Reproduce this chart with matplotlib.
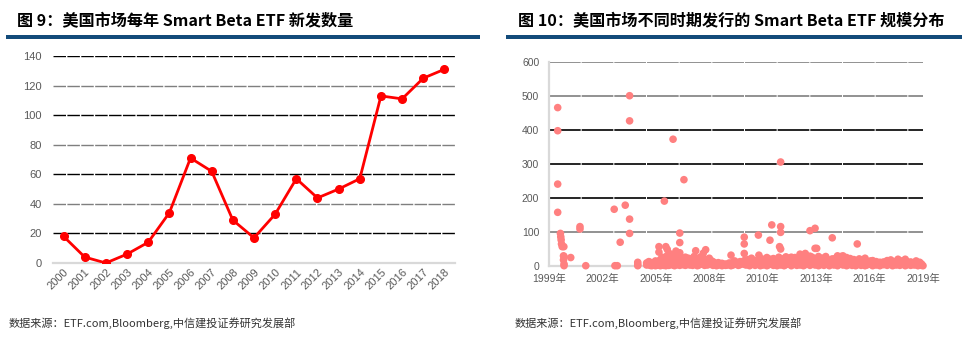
import numpy as np
import matplotlib.pyplot as plt
from matplotlib.patches import Rectangle

plt.rcParams['font.family'] = ['Liberation Sans', 'Noto Sans CJK SC', 'DejaVu Sans']

# fig 9: new Smart Beta ETFs per year
years = ['2000', '2001', '2002', '2003', '2004', '2005', '2006', '2007', '2008', '2009',
         '2010', '2011', '2012', '2013', '2014', '2015', '2016', '2017', '2018']
new_etfs = [18, 4, 0, 6, 14, 34, 71, 62, 29, 17, 33, 57, 44, 50, 57, 113, 111, 125, 131]

# fig 10: launch time (decimal year) vs size
pts_1999_2004 = [(1999.65, 465), (1999.65, 397), (1999.65, 240), (1999.65, 157),
                 (1999.8, 95), (1999.82, 85), (1999.84, 76), (1999.86, 64), (1999.9, 56),
                 (1999.99, 56), (1999.97, 29), (1999.97, 17), (2000.0, 27), (2000.0, 5),
                 (2000.0, 0), (2000.37, 24), (2000.88, 115), (2000.88, 108), (2001.2, 0),
                 (2002.77, 166), (2002.81, 0), (2002.94, 0), (2003.1, 69), (2003.38, 178),
                 (2003.62, 500), (2003.62, 426), (2003.62, 137), (2003.62, 95),
                 (2004.07, 10), (2004.07, 4), (2004.07, 0)]

pts_2004_2009 = [(2004.56, 8), (2004.56, 2), (2004.68, 12), (2004.68, 4), (2004.75, 10),
                 (2004.75, 1), (2004.84, 0), (2004.84, 6), (2004.95, 3), (2004.95, 9),
                 (2005.05, 14), (2005.05, 5), (2005.05, 0), (2005.15, 8), (2005.15, 2),
                 (2005.24, 56), (2005.24, 40), (2005.24, 11), (2005.24, 3),
                 (2005.32, 18), (2005.32, 6), (2005.32, 0), (2005.42, 25), (2005.42, 12),
                 (2005.42, 4), (2005.5, 16), (2005.5, 1), (2005.54, 190), (2005.54, 8),
                 (2005.62, 56), (2005.62, 22), (2005.62, 10), (2005.62, 0),
                 (2005.7, 48), (2005.7, 30), (2005.7, 14), (2005.7, 5),
                 (2005.78, 20), (2005.78, 8), (2005.78, 1), (2005.86, 35), (2005.86, 13),
                 (2005.86, 3), (2005.94, 24), (2005.94, 6),
                 (2006.02, 372), (2006.02, 18), (2006.02, 2), (2006.1, 28), (2006.1, 10),
                 (2006.1, 0), (2006.18, 43), (2006.18, 22), (2006.18, 7),
                 (2006.26, 30), (2006.26, 12), (2006.26, 3), (2006.34, 19), (2006.34, 5),
                 (2006.39, 96), (2006.39, 68), (2006.39, 38), (2006.39, 14), (2006.39, 1),
                 (2006.48, 22), (2006.48, 8), (2006.56, 15), (2006.56, 3),
                 (2006.62, 253), (2006.62, 18), (2006.62, 6), (2006.7, 25), (2006.7, 11),
                 (2006.7, 1), (2006.78, 17), (2006.78, 4), (2006.86, 22), (2006.86, 9),
                 (2006.94, 12), (2006.94, 2),
                 (2007.02, 20), (2007.02, 6), (2007.1, 14), (2007.1, 1), (2007.18, 27),
                 (2007.18, 10), (2007.27, 44), (2007.27, 18), (2007.27, 4),
                 (2007.36, 22), (2007.36, 7), (2007.36, 0), (2007.45, 15), (2007.45, 2),
                 (2007.55, 26), (2007.55, 9), (2007.62, 20), (2007.62, 5),
                 (2007.69, 37), (2007.69, 12), (2007.76, 16), (2007.76, 1),
                 (2007.82, 47), (2007.82, 18), (2007.82, 4), (2007.92, 14), (2007.92, 2),
                 (2008.02, 22), (2008.02, 6), (2008.12, 15), (2008.12, 9),
                 (2008.22, 12), (2008.22, 1), (2008.32, 8), (2008.32, 3), (2008.42, 6),
                 (2008.42, 0), (2008.52, 9), (2008.52, 2), (2008.62, 4), (2008.72, 7),
                 (2008.72, 0), (2008.82, 3), (2008.92, 5), (2008.92, 1),
                 (2009.02, 2), (2009.12, 8), (2009.22, 31), (2009.22, 6), (2009.22, 0),
                 (2009.32, 10), (2009.32, 2), (2009.42, 14), (2009.42, 4), (2009.52, 6),
                 (2009.62, 9), (2009.62, 1), (2009.72, 12), (2009.72, 3), (2009.82, 7),
                 (2009.95, 84), (2009.95, 64), (2009.95, 36), (2009.95, 15), (2009.95, 4)]

pts_2010_2019 = [(2010.05, 10), (2010.05, 2), (2010.15, 18), (2010.15, 5), (2010.25, 8),
                 (2010.25, 0), (2010.35, 22), (2010.35, 12), (2010.45, 6), (2010.55, 15),
                 (2010.55, 1), (2010.65, 9), (2010.73, 90), (2010.76, 31), (2010.76, 4),
                 (2010.84, 14), (2010.84, 0), (2010.92, 20), (2010.92, 7),
                 (2011.0, 11), (2011.0, 2), (2011.1, 17), (2011.1, 5), (2011.2, 24),
                 (2011.2, 8), (2011.2, 0), (2011.3, 13), (2011.3, 3), (2011.37, 75),
                 (2011.37, 19), (2011.47, 120), (2011.47, 6), (2011.56, 21), (2011.56, 1),
                 (2011.66, 12), (2011.66, 4), (2011.76, 18), (2011.76, 0), (2011.86, 25),
                 (2011.86, 9), (2011.96, 305), (2011.96, 115), (2011.96, 98), (2011.9, 56),
                 (2011.96, 49), (2011.96, 14), (2011.96, 2),
                 (2012.05, 20), (2012.05, 6), (2012.15, 12), (2012.15, 0), (2012.25, 26),
                 (2012.25, 15), (2012.25, 3), (2012.35, 9), (2012.45, 22), (2012.45, 5),
                 (2012.55, 25), (2012.55, 11), (2012.55, 0), (2012.65, 16), (2012.65, 4),
                 (2012.75, 24), (2012.75, 8), (2012.85, 13), (2012.85, 1), (2012.95, 20),
                 (2012.95, 6),
                 (2013.03, 34), (2013.03, 14), (2013.03, 2), (2013.12, 19), (2013.12, 5),
                 (2013.22, 26), (2013.22, 10), (2013.22, 0), (2013.32, 36), (2013.32, 15),
                 (2013.32, 3), (2013.42, 22), (2013.42, 7), (2013.58, 103), (2013.58, 28),
                 (2013.58, 12), (2013.58, 1), (2013.7, 25), (2013.7, 6), (2013.86, 110),
                 (2013.86, 51), (2013.86, 18), (2013.86, 2), (2013.95, 51), (2013.95, 20),
                 (2013.95, 8),
                 (2014.05, 27), (2014.05, 10), (2014.05, 0), (2014.15, 15), (2014.15, 3),
                 (2014.25, 22), (2014.25, 7), (2014.35, 12), (2014.35, 1), (2014.45, 27),
                 (2014.45, 14), (2014.55, 18), (2014.55, 4), (2014.65, 10), (2014.65, 0),
                 (2014.81, 82), (2014.81, 20), (2014.81, 6), (2014.9, 14), (2014.9, 2),
                 (2015.0, 22), (2015.0, 8), (2015.1, 29), (2015.1, 12), (2015.1, 0),
                 (2015.2, 18), (2015.2, 4), (2015.3, 27), (2015.3, 10), (2015.4, 29),
                 (2015.4, 15), (2015.4, 2), (2015.5, 20), (2015.5, 6), (2015.6, 24),
                 (2015.6, 9), (2015.6, 0), (2015.7, 16), (2015.7, 3), (2015.8, 21),
                 (2015.8, 7), (2015.9, 12), (2015.9, 1),
                 (2016.0, 18), (2016.0, 5), (2016.1, 15), (2016.1, 0), (2016.19, 64),
                 (2016.19, 12), (2016.19, 3), (2016.3, 20), (2016.3, 6), (2016.4, 10),
                 (2016.4, 1), (2016.5, 16), (2016.5, 4), (2016.62, 22), (2016.62, 8),
                 (2016.62, 0), (2016.72, 12), (2016.72, 2), (2016.82, 9), (2016.92, 14),
                 (2016.92, 4),
                 (2017.04, 15), (2017.04, 6), (2017.04, 0), (2017.14, 8), (2017.24, 12),
                 (2017.24, 2), (2017.34, 6), (2017.44, 10), (2017.44, 0), (2017.54, 7),
                 (2017.64, 11), (2017.64, 3), (2017.74, 5), (2017.84, 15), (2017.84, 1),
                 (2017.94, 8),
                 (2018.04, 17), (2018.04, 4), (2018.14, 9), (2018.14, 0), (2018.24, 12),
                 (2018.34, 6), (2018.34, 2), (2018.44, 19), (2018.44, 8), (2018.54, 10),
                 (2018.54, 1), (2018.64, 14), (2018.64, 4), (2018.74, 7), (2018.84, 19),
                 (2018.84, 9), (2018.84, 0), (2018.94, 12), (2018.94, 3),
                 (2019.04, 8), (2019.14, 11), (2019.14, 1), (2019.24, 6), (2019.34, 9),
                 (2019.34, 2), (2019.44, 14), (2019.44, 4), (2019.54, 7), (2019.54, 0),
                 (2019.64, 10), (2019.74, 5), (2019.74, 1), (2019.82, 0)]

date_labels = ['1999年', '2002年', '2005年', '2008年', '2010年', '2013年', '2016年', '2019年']
date_range = (1999.17, 2019.82)

title_left = '图 9：美国市场每年 Smart Beta ETF 新发数量'
title_right = '图 10：美国市场不同时期发行的 Smart Beta ETF 规模分布'
source = '数据来源：ETF.com,Bloomberg,中信建投证券研究发展部'

tick_color = '#595959'
cjk = ['Noto Sans CJK SC', 'DejaVu Sans']

fig = plt.figure(figsize=(9.78, 3.45), dpi=100)

# ---- left chart ----
ax1 = fig.add_axes([53 / 978, 82 / 345, 402 / 978, 207 / 345])
ax1.plot(years, new_etfs, color='#FF0000', lw=2, marker='o', ms=5.5, zorder=3)
ax1.set_xlim(-0.5, len(years) - 0.5)
ax1.set_ylim(0, 140)
ax1.set_yticks(range(0, 141, 20))
ax1.yaxis.grid(True, linestyle=(0, (9, 1)), lw=1)
for i, gl in enumerate(ax1.get_ygridlines()):
    gl.set_color('#000000' if i % 2 == 1 else '#7f7f7f')
ax1.get_ygridlines()[0].set_visible(False)
for s in ['top', 'right', 'left']:
    ax1.spines[s].set_visible(False)
ax1.spines['bottom'].set_color('#D9D9D9')
ax1.spines['bottom'].set_linewidth(1.6)
ax1.tick_params(length=0, labelsize=8, colors=tick_color)
ax1.tick_params(axis='y', pad=8)
ax1.tick_params(axis='x', pad=3)
plt.setp(ax1.get_xticklabels(), rotation=45, ha='right', va='top', rotation_mode='anchor')
ax1.set_axisbelow(True)

# ---- right chart ----
ax2 = fig.add_axes([549 / 978, 79.3 / 345, 374 / 978, 204 / 345])
xs = [p[0] for p in pts_1999_2004 + pts_2004_2009 + pts_2010_2019]
ys = [p[1] for p in pts_1999_2004 + pts_2004_2009 + pts_2010_2019]
ax2.scatter(xs, ys, s=30, color='#FF8080', edgecolors='none', zorder=3, clip_on=False)
ax2.set_xlim(*date_range)
ax2.set_ylim(0, 600)
ax2.set_yticks(range(0, 601, 100))
ax2.set_xticks(np.linspace(date_range[0], date_range[1], len(date_labels)))
ax2.set_xticklabels(date_labels)
ax2.yaxis.grid(True, linestyle=(0, (19, 0.6)), lw=1.2)
grid_cols = ['#D9D9D9', '#7f7f7f', '#000000', '#000000', '#000000', '#7f7f7f', '#7f7f7f']
for gl, c in zip(ax2.get_ygridlines(), grid_cols):
    gl.set_color(c)
ax2.get_ygridlines()[0].set_visible(False)
for s in ['top', 'right']:
    ax2.spines[s].set_visible(False)
for s in ['bottom', 'left']:
    ax2.spines[s].set_color('#D9D9D9')
    ax2.spines[s].set_linewidth(1.6)
ax2.tick_params(length=0, labelsize=7.5, colors=tick_color)
ax2.tick_params(axis='y', pad=7)
ax2.tick_params(axis='x', pad=6)
ax2.set_axisbelow(True)

# ---- titles, bars, sources ----
fig.text(17 / 978, 1 - 21 / 345, title_left, family=cjk, fontsize=11.6, weight='bold',
         va='center', ha='left')
fig.text(518 / 978, 1 - 21 / 345, title_right, family=cjk, fontsize=11.6, weight='bold',
         va='center', ha='left')
fig.add_artist(Rectangle((6 / 978, 1 - 38.5 / 345), 474 / 978, 3.5 / 345,
                         transform=fig.transFigure, color='#124B7A', lw=0))
fig.add_artist(Rectangle((506 / 978, 1 - 38.5 / 345), 456 / 978, 3.5 / 345,
                         transform=fig.transFigure, color='#124B7A', lw=0))
fig.text(9 / 978, 1 - 323 / 345, source, family=cjk, fontsize=8, style='italic',
         color='#333333', va='center', ha='left')
fig.text(515 / 978, 1 - 323 / 345, source, family=cjk, fontsize=8, style='italic',
         color='#333333', va='center', ha='left')

fig.savefig('out.png', dpi=100)
